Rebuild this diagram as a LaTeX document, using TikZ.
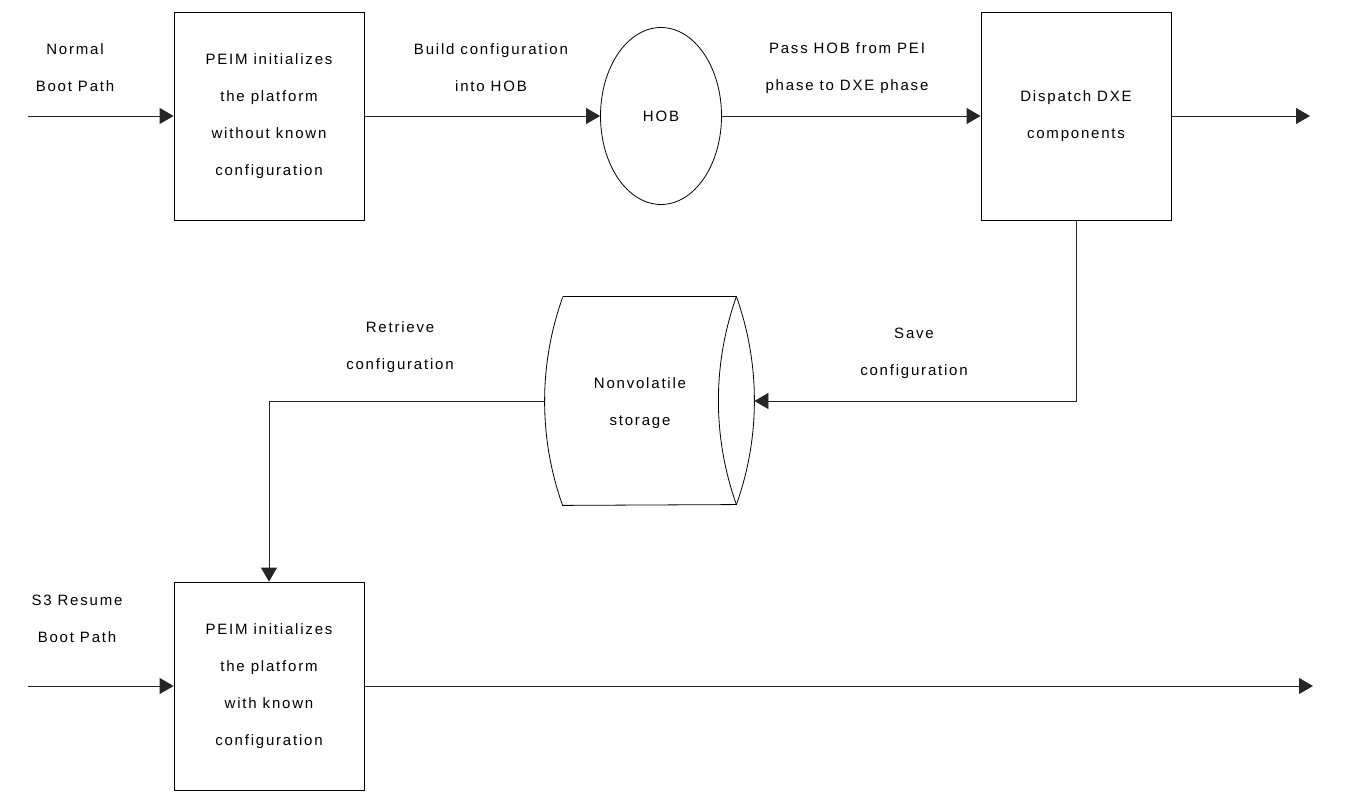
\documentclass[tikz,border=0pt]{standalone}
\usepackage{fontspec}
\setmainfont{Liberation Sans}[LetterSpace=12]
\usetikzlibrary{arrows.meta, positioning, shapes.geometric}

\begin{document}
\begin{tikzpicture}[x=1pt, y=-1pt, line width=0.8pt,
    font=\fontsize{15}{37}\selectfont,
    block/.style={draw, minimum width=190pt, minimum height=208pt, align=center, inner sep=0pt},
    lbl/.style={align=center},
    flow/.style={draw=black!85, -{Triangle[length=14pt, width=16pt]}}]
  \useasboundingbox (0,0) rectangle (1371,802);
  % top row
  \node[block] (peimA) at (269,116) {PEIM initializes\\the platform\\without known\\configuration};
  \node[draw, ellipse, inner sep=0pt, minimum width=121pt, minimum height=177pt] (hob) at (661,116) {HOB};
  \node[block] (dxe) at (1076,116) {Dispatch DXE\\components};
  % storage drum (circular end caps)
  \node[minimum width=209pt, minimum height=208pt, inner sep=0pt] (nvs) at (649.5,401) {};
  \draw ([xshift=18pt]nvs.north west) -- ([xshift=-18pt]nvs.north east)
    arc[start angle=19.64, end angle=-19.64, radius=309.4pt]
    -- ([xshift=18pt]nvs.south west)
    arc[start angle=199.64, end angle=160.36, radius=309.4pt];
  \draw ([xshift=-18pt]nvs.north east) arc[start angle=160.36, end angle=199.64, radius=309.4pt];
  \node[lbl] (nvstext) at (640,403) {Nonvolatile\\storage};
  % bottom row
  \node[block] (peimB) at (269,686) {PEIM initializes\\the platform\\with known\\configuration};
  % free ends
  \coordinate (normalin) at (28,116);
  \coordinate (dxeout) at (1310,116);
  \coordinate (s3in) at (28,686);
  \coordinate (s3out) at (1313,686);
  % labels
  \node[lbl] (normallbl) at (75,68) {Normal\\Boot Path};
  \node[lbl] (buildlbl) at (491,68) {Build configuration\\into HOB};
  \node[lbl] (passlbl) at (847,68) {Pass HOB from PEI\\phase to DXE phase};
  \node[lbl] (savelbl) at (914,353) {Save\\configuration};
  \node[lbl] (retrievelbl) at (400,347) {Retrieve\\configuration};
  \node[lbl] (s3lbl) at (77,619) {S3 Resume\\Boot Path};
  % connectors
  \draw[flow] (normalin) -- (peimA.west);
  \draw[flow] (peimA.east) -- (hob.west);
  \draw[flow] (hob.east) -- (dxe.west);
  \draw[flow] (dxe.east) -- (dxeout);
  \draw[flow] (dxe.south) |- (nvs.east);
  \draw[flow] (nvs.west) -| (peimB.north);
  \draw[flow] (s3in) -- (peimB.west);
  \draw[flow] (peimB.east) -- (s3out);
\end{tikzpicture}
\end{document}
